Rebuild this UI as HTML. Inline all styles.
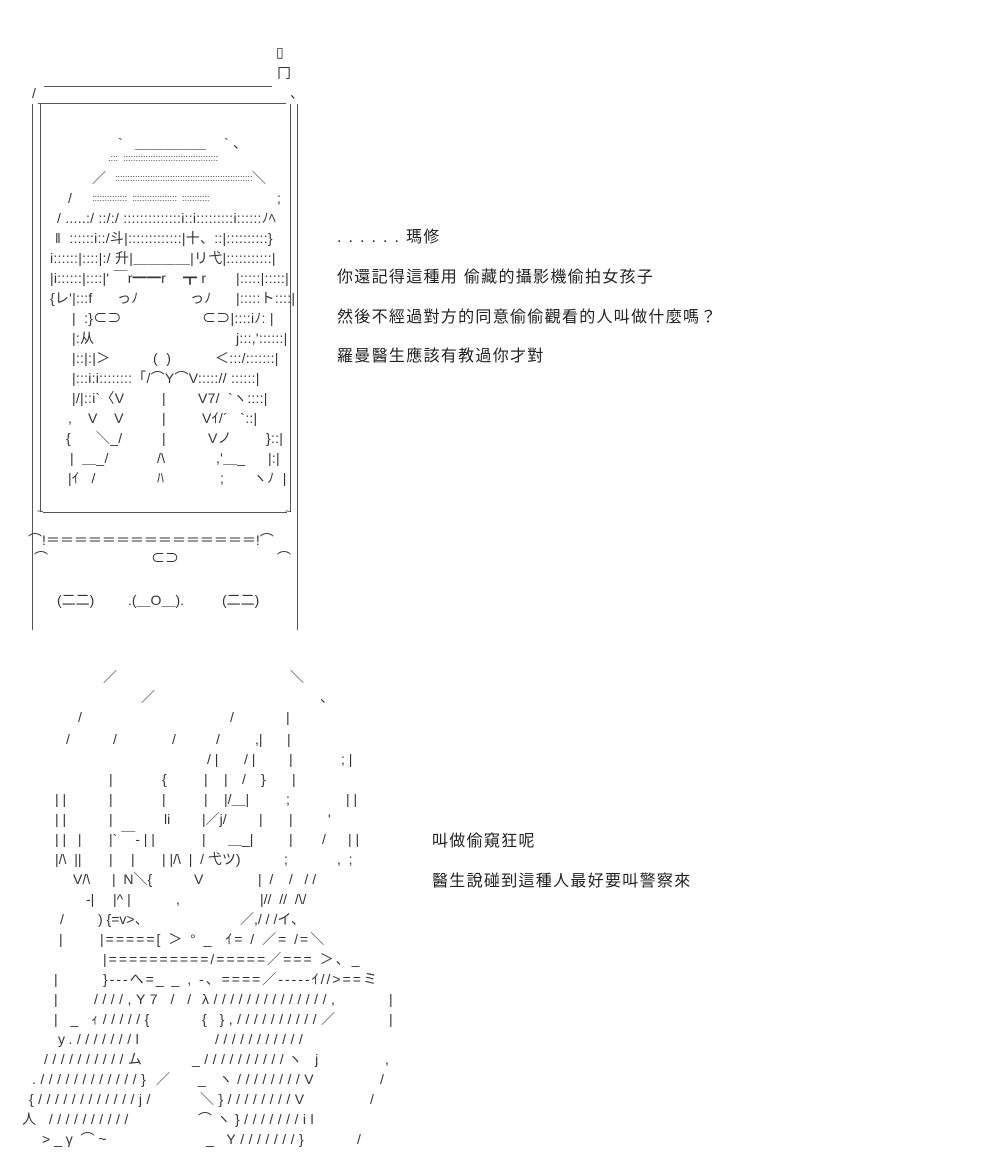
<!DOCTYPE html>
<html><head><meta charset="utf-8"><style>
html,body{margin:0;padding:0;background:#fff;}
body{width:1000px;height:1168px;position:relative;overflow:hidden;font-family:"Liberation Sans","Noto Sans CJK JP",sans-serif;color:#333;}
.r{position:absolute;left:0;top:0;}
.r b{position:absolute;font-weight:normal;white-space:pre;font-size:14px;line-height:20px;top:-10px;}
.f b{letter-spacing:.25px;}
.r b.s{letter-spacing:4.5px;}
.r b.e{letter-spacing:2px;}
.r b.d{font-size:9px;letter-spacing:0;}
.t{position:absolute;white-space:pre;font-size:16px;letter-spacing:1.3px;color:#222;line-height:20px;}
.ln{position:absolute;background:#555;}
</style></head><body>

<!-- phone frame -->
<div class="ln" style="left:44px;top:86px;width:228px;height:1px"></div>
<div class="ln" style="left:38px;top:103px;width:248px;height:1px"></div>
<div class="ln" style="left:32px;top:104px;width:1px;height:526px"></div>
<div class="ln" style="left:297px;top:104px;width:1px;height:526px"></div>
<div class="ln" style="left:40px;top:104px;width:1px;height:408px"></div>
<div class="ln" style="left:290px;top:104px;width:1px;height:408px"></div>
<div class="ln" style="left:43px;top:512px;width:244px;height:1px"></div>
<div class="r" style="top:52px"><b style="left:276px">▯</b></div>
<div class="r" style="top:73px"><b style="left:277px">冂</b></div>
<div class="r" style="top:93px"><b style="left:32px">/</b><b style="left:290px">、</b></div>
<div class="r" style="top:512px"><b style="left:37px;font-size:11px">~</b><b style="left:285px;font-size:11px">~</b></div>
<div class="r" style="top:540px"><b style="left:28px">⌒!＝＝＝＝＝＝＝＝＝＝＝＝＝＝＝!⌒</b></div>
<div class="r" style="top:558px"><b style="left:34px">⌒</b><b style="left:151px">⊂⊃</b><b style="left:277px">⌒</b></div>
<div class="r" style="top:600px"><b style="left:57px">(二二)</b><b style="left:128px">.(＿O＿).</b><b style="left:222px">(二二)</b></div>

<!-- face -->
<div class="r f" style="top:143px"><b style="left:118px">`</b><b style="left:135px">＿＿＿＿＿</b><b style="left:224px">` 、</b></div>
<div class="r f" style="top:158px"><b class="d" style="left:108px">.:::  ::::::::::::::::::::::::::::::::::::::</b></div>
<div class="r f" style="top:178px"><b style="left:92px">／</b><b class="d" style="left:115px">:::::::::::::::::::::::::::::::::::::::::::::::::::::::</b><b style="left:252px">＼</b></div>
<div class="r f" style="top:198px"><b style="left:68px">/</b><b class="d" style="left:92px">::::::::::::::  ::::::::::::::::::  :::::::::::</b><b style="left:277px">;</b></div>
<div class="r f" style="top:218px"><b style="left:57px">/ .....:/ ::/:/ ::::::::::::::i::i:::::::::i::::::ﾉﾍ</b></div>
<div class="r f" style="top:238px"><b style="left:55px">‖  ::::::i::/斗|:::::::::::::|十、::|::::::::::}</b></div>
<div class="r f" style="top:258px"><b style="left:50px">i::::::|::::|:/ 升|＿＿＿＿|リ弋|:::::::::::|</b></div>
<div class="r f" style="top:278px"><b style="left:50px">|i::::::|::::|' ￣r━━r</b><b style="left:183px">┳ r</b><b style="left:236px">|:::::|:::::|</b></div>
<div class="r f" style="top:298px"><b style="left:50px">{レ'|:::f</b><b style="left:117px">っﾉ</b><b style="left:190px">っﾉ</b><b style="left:236px">|:::::ト::::|</b></div>
<div class="r f" style="top:318px"><b style="left:72px">|  :}⊂⊃</b><b style="left:202px">⊂⊃|::::iﾉ: |</b></div>
<div class="r f" style="top:338px"><b style="left:72px">|:从</b><b style="left:236px">j:::,'::::::|</b></div>
<div class="r f" style="top:358px"><b style="left:72px">|::|:|＞</b><b style="left:153px">(  )</b><b style="left:215px">＜:::/:::::::|</b></div>
<div class="r f" style="top:378px"><b style="left:72px">|:::i:i::::::::「/⌒Y⌒V:::::// ::::::|</b></div>
<div class="r f" style="top:398px"><b style="left:72px">|/|::i`〈V</b><b style="left:162px">|</b><b style="left:198px">V7/  `ヽ::::|</b></div>
<div class="r f" style="top:418px"><b style="left:68px">,</b><b style="left:88px">V    V</b><b style="left:162px">|</b><b style="left:202px">Vｲ/´   `::|</b></div>
<div class="r f" style="top:438px"><b style="left:66px">{</b><b style="left:96px">＼_/</b><b style="left:162px">|</b><b style="left:208px">Vノ</b><b style="left:266px">}::|</b></div>
<div class="r f" style="top:458px"><b style="left:70px">|  ＿_/</b><b style="left:157px">/\</b><b style="left:216px">,'＿_</b><b style="left:268px">|:|</b></div>
<div class="r f" style="top:478px"><b style="left:68px">|ｲ   /</b><b style="left:157px">ﾊ</b><b style="left:220px">;</b><b style="left:253px">ヽﾉ  |</b></div>

<!-- text 1 -->
<div class="t" style="left:337px;top:228px">. . . . . . 瑪修</div>
<div class="t" style="left:337px;top:268px">你還記得這種用 偷藏的攝影機偷拍女孩子</div>
<div class="t" style="left:337px;top:308px">然後不經過對方的同意偷偷觀看的人叫做什麼嗎？</div>
<div class="t" style="left:337px;top:347px">羅曼醫生應該有教過你才對</div>

<!-- bottom art -->
<div class="r" style="top:677px"><b style="left:103px">／</b><b style="left:290px">＼</b></div>
<div class="r" style="top:697px"><b style="left:141px">／</b><b style="left:320px">、</b></div>
<div class="r" style="top:717px"><b style="left:78px">/</b><b style="left:230px">/</b><b style="left:286px">|</b></div>
<div class="r" style="top:739px"><b style="left:66px">/</b><b style="left:113px">/</b><b style="left:172px">/</b><b style="left:216px">/</b><b style="left:255px">,|</b><b style="left:287px">|</b></div>
<div class="r" style="top:759px"><b style="left:207px">/ |</b><b style="left:244px">/ |</b><b style="left:289px">|</b><b style="left:341px">; |</b></div>
<div class="r" style="top:779px"><b style="left:109px">|</b><b style="left:162px">{</b><b style="left:204px">|</b><b style="left:224px">|</b><b style="left:242px">/</b><b style="left:261px">}</b><b style="left:292px">|</b></div>
<div class="r" style="top:799px"><b style="left:55px">| |</b><b style="left:109px">|</b><b style="left:162px">|</b><b style="left:204px">|</b><b style="left:224px">|/＿|</b><b style="left:286px">;</b><b style="left:346px">| |</b></div>
<div class="r" style="top:819px"><b style="left:55px">| |</b><b style="left:109px">|</b><b style="left:164px">li</b><b style="left:202px">|／j/</b><b style="left:259px">|</b><b style="left:289px">|</b><b style="left:328px">'</b></div>
<div class="r" style="top:839px"><b style="left:55px">| |   |</b><b style="left:109px">|` ￣- | |</b><b style="left:202px">|</b><b style="left:228px">＿_|</b><b style="left:289px">|</b><b style="left:322px">/</b><b style="left:348px">| |</b></div>
<div class="r" style="top:859px"><b style="left:55px">|/\  ||</b><b style="left:109px">|</b><b style="left:131px">|</b><b style="left:162px">| |/\  |  / 弋ツ)</b><b style="left:284px">;</b><b style="left:337px">,  ;</b></div>
<div class="r" style="top:879px"><b style="left:73px">V/\</b><b style="left:112px">|  N＼{</b><b style="left:194px">V</b><b style="left:258px">|  /    /   / /</b></div>
<div class="r" style="top:899px"><b style="left:86px">-|</b><b style="left:113px">|^ |</b><b style="left:176px">,</b><b style="left:260px">|//  //  /\/</b></div>
<div class="r" style="top:919px"><b style="left:60px">/</b><b style="left:98px">) {=v&gt;、</b><b style="left:240px">／,/ / /イ、</b></div>
<div class="r" style="top:939px"><b style="left:59px">|</b><b class="e" style="left:100px">|=====[ ＞ ° _  ｲ= / ／= /=＼</b></div>
<div class="r" style="top:959px"><b class="e" style="left:103px">|==========/=====／=== ＞、_</b></div>
<div class="r" style="top:979px"><b style="left:54px">|</b><b class="e" style="left:103px">}---へ=_ _ , -、====／-----ｲ//&gt;==ミ</b></div>
<div class="r" style="top:999px"><b style="left:54px">|</b><b class="s" style="left:94px">////,Y7 / /</b><b class="s" style="left:202px">λ//////////////,</b><b style="left:389px">|</b></div>
<div class="r" style="top:1019px"><b class="s" style="left:54px">| _ ｨ/////{</b><b class="s" style="left:202px">{ },//////////／</b><b style="left:389px">|</b></div>
<div class="r" style="top:1039px"><b class="s" style="left:58px">y.///////l</b><b class="s" style="left:215px">///////////</b></div>
<div class="r" style="top:1059px"><b class="s" style="left:44px">//////////ム</b><b class="s" style="left:192px">_//////////ヽ j</b><b style="left:385px">,</b></div>
<div class="r" style="top:1079px"><b class="s" style="left:32px">.////////////}</b><b style="left:156px">／</b><b class="s" style="left:198px">_ ヽ////////V</b><b style="left:380px">/</b></div>
<div class="r" style="top:1099px"><b class="s" style="left:29px">{////////////j/</b><b class="s" style="left:200px">＼}////////V</b><b style="left:370px">/</b></div>
<div class="r" style="top:1119px"><b class="s" style="left:22px">人 //////////</b><b class="s" style="left:198px">⌒ヽ}///////il</b></div>
<div class="r" style="top:1139px"><b style="left:42px">&gt; _ γ  ⌒ ~</b><b class="s" style="left:206px">_ Y///////}</b><b style="left:357px">/</b></div>

<!-- text 2 -->
<div class="t" style="left:432px;top:832px">叫做偷窺狂呢</div>
<div class="t" style="left:432px;top:872px">醫生說碰到這種人最好要叫警察來</div>

</body></html>
